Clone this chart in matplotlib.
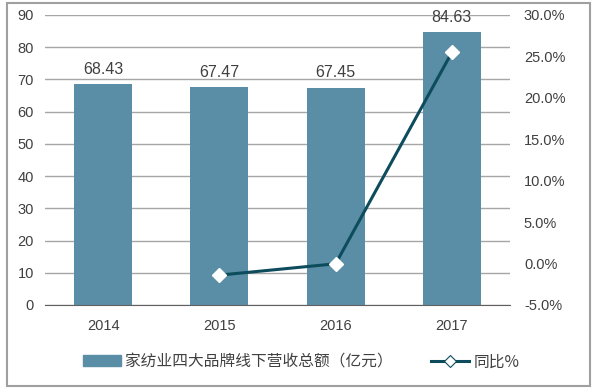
import matplotlib.pyplot as plt
from matplotlib.patches import Rectangle
from matplotlib.lines import Line2D
from matplotlib.ticker import FuncFormatter

plt.rcParams["font.family"] = ["Liberation Sans", "Noto Sans CJK SC", "DejaVu Sans"]

years = ["2014", "2015", "2016", "2017"]
revenue = [68.43, 67.47, 67.45, 84.63]
yoy_years = ["2015", "2016", "2017"]
yoy = [-1.40, -0.03, 25.47]

bar_color = "#5a8ea6"
line_color = "#0d4c5c"
grid_color = "#a6a6a6"
text_color = "#404040"

fig = plt.figure(figsize=(6, 3.9), dpi=100)
fig.patches.append(Rectangle((0.012, 0.01), 0.972, 0.982, transform=fig.transFigure,
                             fill=False, edgecolor="#a0a0a0", linewidth=1.5))

ax = fig.add_axes([0.075, 0.218, 0.775, 0.744])
x = list(range(len(years)))
ax.bar(x, revenue, width=0.5, color=bar_color, zorder=2)
for xi, v in zip(x, revenue):
    ax.text(xi, v + 2.2, f"{v:.2f}", ha="center", va="bottom", fontsize=11.5,
            color=text_color)

ax.set_xlim(-0.5, 3.5)
ax.set_ylim(0, 90)
ax.set_yticks(range(0, 91, 10))
ax.set_xticks(x)
ax.set_xticklabels(years)
ax.grid(axis="y", color=grid_color, linewidth=1, zorder=0)
for s in ["top", "right", "left"]:
    ax.spines[s].set_visible(False)
ax.spines["bottom"].set_color("#606060")
ax.tick_params(length=0, labelsize=10.5, colors=text_color, pad=8)
ax.tick_params(axis="x", pad=10)
ax.set_axisbelow(True)

ax2 = ax.twinx()
ax2.set_ylim(-5, 30)
ax2.set_yticks(range(-5, 31, 5))
ax2.yaxis.set_major_formatter(FuncFormatter(lambda v, p: f"{v:.1f}%"))
xi2 = [years.index(y) for y in yoy_years]
ax2.plot(xi2, yoy, color=line_color, linewidth=2.2, marker="D", markersize=7.5,
         markerfacecolor="white", markeredgecolor="white", zorder=3)
for s in ax2.spines.values():
    s.set_visible(False)
ax2.tick_params(length=0, labelsize=10.5, colors=text_color, pad=10)

handles = [
    Rectangle((0, 0), 1, 1, color=bar_color),
    Line2D([], [], color=line_color, linewidth=2.2, marker="D", markersize=6,
           markerfacecolor="white", markeredgecolor=line_color, markeredgewidth=0.8),
]
labels = ["家纺业四大品牌线下营收总额（亿元）", "同比%"]
fig.legend(handles, labels, loc="center", bbox_to_anchor=(0.502, 0.072), ncol=2,
           frameon=False, columnspacing=2.4, handlelength=2.4,
           handletextpad=0.3, labelcolor=text_color,
           prop={"family": ["Noto Sans CJK SC", "DejaVu Sans"], "size": 11.3})

fig.savefig("out.png", dpi=100)
